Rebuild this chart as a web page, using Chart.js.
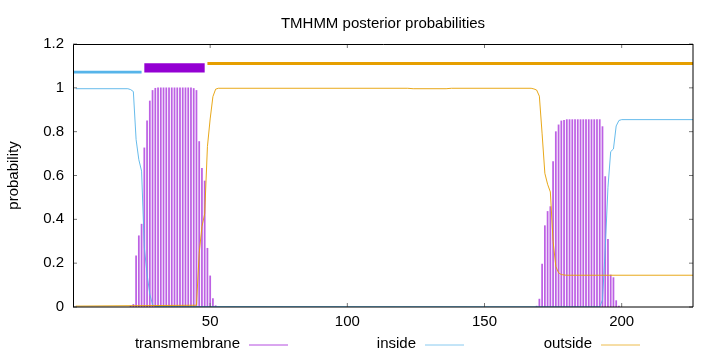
<!DOCTYPE html>
<html><head><meta charset="utf-8">
<script src="https://cdn.jsdelivr.net/npm/chart.js@4.4.0/dist/chart.umd.min.js"></script>
<style>html,body{margin:0;padding:0;background:#fff;}canvas{display:block;}</style>
</head><body>
<canvas id="c" width="720" height="352"></canvas>
<script>
// ---- data ----
const chartTitle = 'TMHMM posterior probabilities';
const yAxisLabel = 'probability';
const seriesNames = ['transmembrane', 'inside', 'outside'];
const xTicks = [50, 100, 150, 200];
const yTicks = [0, 0.2, 0.4, 0.6, 0.8, 1, 1.2];
const xRange = [0, 226];
const yRange = [0, 1.2];

// transmembrane posterior (impulses)
const tmResidues = [21,22,23,24,25,26,27,28,29,30,31,32,33,34,35,36,37,38,39,40,41,42,43,44,45,46,47,48,49,50,51,52,
  169,170,171,172,173,174,175,176,177,178,179,180,181,182,183,184,185,186,187,188,189,190,191,192,193,194,195,196,197,198,199];
const tmValues = [0.004,0.012,0.233,0.325,0.378,0.726,0.849,0.940,0.988,0.998,1,1,1,1,1,1,1,1,1,1,1,1,1,0.997,0.988,0.755,0.633,0.575,0.268,0.142,0.038,0.006,
  0.004,0.036,0.196,0.371,0.436,0.458,0.664,0.800,0.831,0.849,0.852,0.855,0.855,0.855,0.855,0.855,0.855,0.855,0.855,0.855,0.855,0.855,0.855,0.855,0.823,0.595,0.309,0.146,0.134,0.029,0.004];

// inside posterior (line)
const insideResidues = [1,20,21,22,23,24,25,26,27,28,29,30,192,193,194,195,196,197,198,199,200,226];
const insideValues = [0.996,0.996,0.992,0.983,0.764,0.672,0.620,0.272,0.150,0.058,0.011,0.002,0.001,0.032,0.265,0.546,0.709,0.721,0.826,0.851,0.855,0.855];

// outside posterior (line)
const outsideResidues = [1,45,46,47,48,49,50,51,52,53,122,124,136,138,167,168,169,170,171,172,173,174,175,176,177,178,179,180,226];
const outsideValues = [0.004,0.008,0.245,0.367,0.425,0.732,0.858,0.960,0.994,0.998,0.998,0.996,0.996,0.998,0.998,0.995,0.990,0.962,0.790,0.610,0.560,0.525,0.300,0.185,0.156,0.148,0.146,0.145,0.145];

// predicted topology (top bars)
const topoInside = [0, 25];   const topoInsideLevel = 1.072;
const topoTM = [26, 48];      const topoTMLevel = 1.091;
const topoOutside = [49, 226]; const topoOutsideLevel = 1.111;

// ---- chart ----
const colors = { tm: '#9400d3', inside: '#56b4e9', outside: '#e69f00' };
const FONT = 'Liberation Sans, Arial, sans-serif';
const pts = (xs, ys) => xs.map((x, i) => ({ x: x, y: ys[i] }));
const seg = (r, lvl) => [{ x: r[0], y: lvl }, { x: r[1], y: lvl }];

const decor = {
  id: 'decor',
  afterDraw(chart) {
    const { ctx, chartArea: a, scales: { x, y } } = chart;
    ctx.save();
    // tick marks (inward, mirrored)
    ctx.strokeStyle = '#777';
    ctx.lineWidth = 1;
    ctx.beginPath();
    xTicks.forEach(v => {
      const px = x.getPixelForValue(v);
      ctx.moveTo(px, a.bottom); ctx.lineTo(px, a.bottom - 4);
      ctx.moveTo(px, a.top); ctx.lineTo(px, a.top + 4);
    });
    yTicks.forEach(v => {
      const py = y.getPixelForValue(v);
      ctx.moveTo(a.left, py); ctx.lineTo(a.left + 4, py);
      ctx.moveTo(a.right, py); ctx.lineTo(a.right - 4, py);
    });
    ctx.stroke();
    // border
    ctx.strokeStyle = '#000';
    ctx.beginPath();
    ctx.moveTo(a.left + 0.5, a.bottom); ctx.lineTo(a.left + 0.5, a.top + 0.5);
    ctx.lineTo(a.right, a.top + 0.5);
    ctx.stroke();
    ctx.beginPath();
    ctx.moveTo(a.right, a.top); ctx.lineTo(a.right, a.bottom); ctx.lineTo(a.left, a.bottom);
    ctx.stroke();
    // title
    ctx.fillStyle = '#000';
    ctx.font = '15px ' + FONT;
    ctx.textAlign = 'center';
    ctx.textBaseline = 'alphabetic';
    ctx.fillText(chartTitle, (a.left + a.right) / 2, 27.5);
    // y label
    ctx.save();
    ctx.translate(17.5, (a.top + a.bottom) / 2);
    ctx.rotate(-Math.PI / 2);
    ctx.fillText(yAxisLabel, 0, 0);
    ctx.restore();
    // legend
    const ends = [240, 416, 592];
    const cols = [colors.tm, colors.inside, colors.outside];
    ctx.textAlign = 'right';
    seriesNames.forEach((name, i) => {
      ctx.fillStyle = '#000';
      ctx.fillText(name, ends[i], 348);
      ctx.strokeStyle = cols[i];
      ctx.globalAlpha = 0.7;
      ctx.beginPath();
      ctx.moveTo(ends[i] + 9, 345); ctx.lineTo(ends[i] + 48, 345);
      ctx.stroke();
      ctx.globalAlpha = 1;
    });
    ctx.restore();
  }
};

new Chart(document.getElementById('c'), {
  type: 'line',
  data: {
    datasets: [
      { type: 'bar', label: seriesNames[0], data: pts(tmResidues, tmValues),
        backgroundColor: 'rgba(148,0,211,0.62)', borderWidth: 0, barThickness: 1.1, order: 3 },
      { label: seriesNames[1], data: pts(insideResidues, insideValues),
        borderColor: 'rgba(86,180,233,0.9)', borderWidth: 1, pointRadius: 0, tension: 0, order: 2 },
      { label: seriesNames[2], data: pts(outsideResidues, outsideValues),
        borderColor: 'rgba(230,159,0,0.9)', borderWidth: 1, pointRadius: 0, tension: 0, order: 1 },
      { label: 'topo-inside', data: seg(topoInside, topoInsideLevel),
        borderColor: colors.inside, borderWidth: 2.8, borderCapStyle: 'butt', pointRadius: 0, order: 0 },
      { label: 'topo-tm', data: seg(topoTM, topoTMLevel),
        borderColor: colors.tm, borderWidth: 9.4, borderCapStyle: 'butt', pointRadius: 0, order: 0 },
      { label: 'topo-outside', data: seg(topoOutside, topoOutsideLevel),
        borderColor: colors.outside, borderWidth: 3, borderCapStyle: 'butt', pointRadius: 0, order: 0 }
    ]
  },
  options: {
    responsive: false,
    animation: false,
    devicePixelRatio: 1,
    layout: { padding: { left: 0, right: 27, top: 44, bottom: 0 } },
    plugins: { legend: { display: false }, title: { display: false }, tooltip: { enabled: false } },
    scales: {
      x: {
        type: 'linear', min: xRange[0], max: xRange[1], offset: false,
        grid: { display: false, drawTicks: false }, border: { display: false },
        afterBuildTicks: s => { s.ticks = xTicks.map(v => ({ value: v })); },
        afterFit: s => { s.height = 45; },
        ticks: { padding: 6, color: '#000', font: { family: FONT, size: 15 }, maxRotation: 0, autoSkip: false,
                 callback: v => String(v) }
      },
      y: {
        type: 'linear', min: yRange[0], max: yRange[1],
        grid: { display: false, drawTicks: false }, border: { display: false },
        afterBuildTicks: s => { s.ticks = yTicks.map(v => ({ value: v })); },
        afterFit: s => { s.width = 73; },
        ticks: { padding: 9, color: '#000', font: { family: FONT, size: 15 }, autoSkip: false,
                 callback: v => String(v) }
      }
    }
  },
  plugins: [decor]
});
</script>
</body></html>
